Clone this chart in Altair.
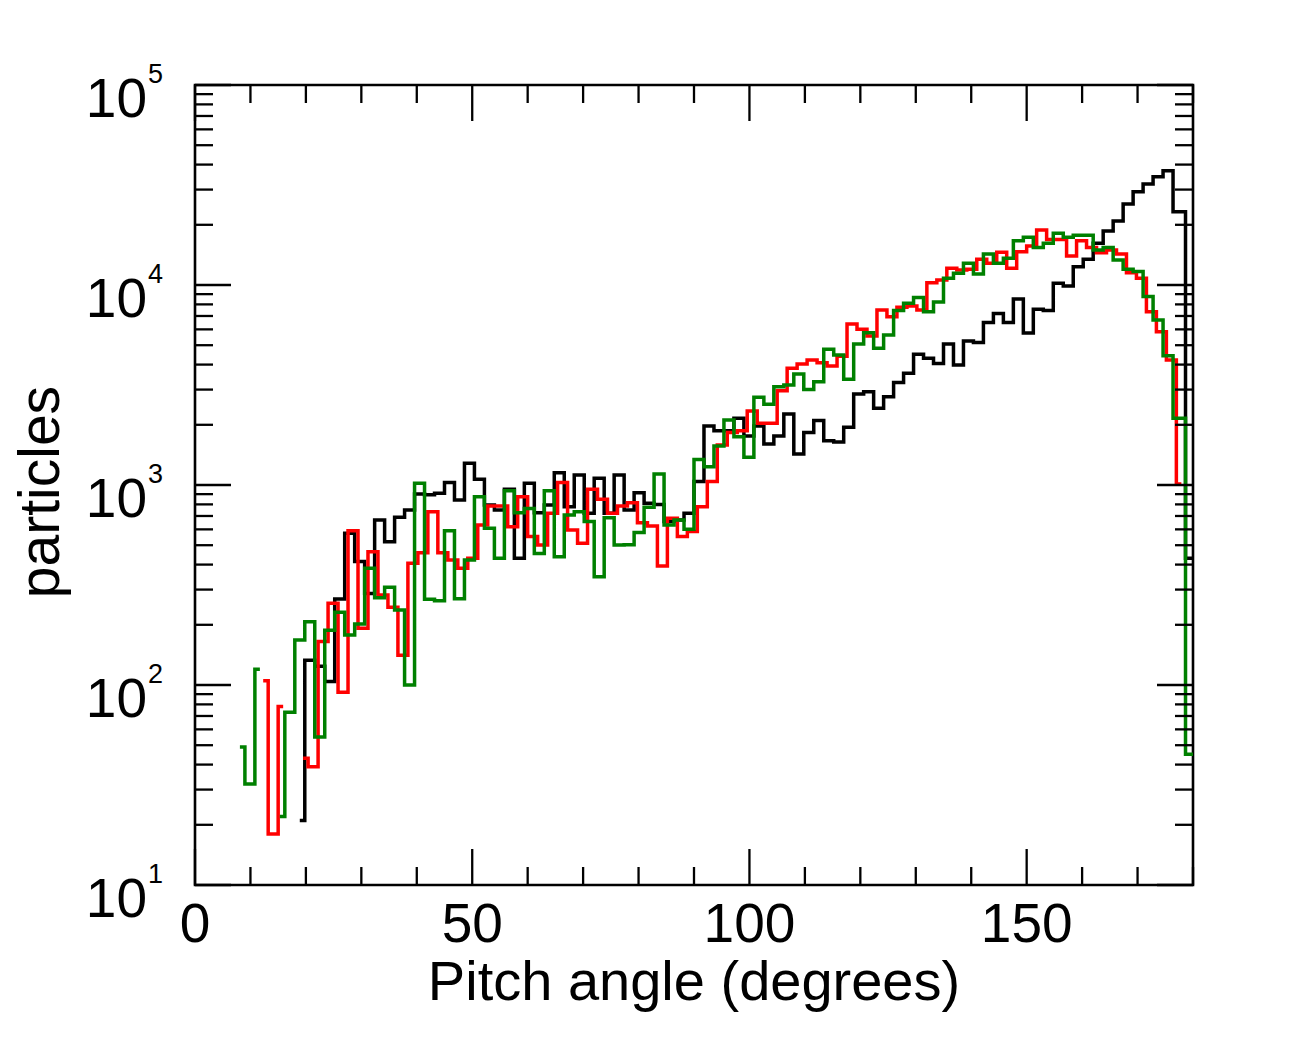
import altair as alt
import pandas as pd

# ---------------- data ----------------
BIN = 1.8  # histogram bin width in degrees

# black: bins 10..98 (centres 1.8*k + 0.9), last point at 180 deg
black_first_bin = 10
black_counts = [21, 133, 124, 104, 269, 573, 414, 287, 668, 521,
                689, 750, 902, 895, 910, 1030, 841, 1283, 1067, 794,
                750, 951, 430, 1019, 727, 794, 1152, 779, 1122, 722,
                1080, 722, 1122, 750, 915, 810, 800, 656, 668, 722,
                1040, 1972, 1870, 1870, 2154, 1758, 1972, 1603, 1758, 2265,
                1429, 1828, 2099, 1666, 1640, 1943, 2851, 2930, 2417, 2765,
                3250, 3616, 4500, 4297, 4055, 5070, 3981, 5248, 5153, 6500,
                7211, 6500, 8511, 5750, 7554, 7447, 10190, 9886, 12350, 13440,
                16160, 18620, 20890, 25410, 29290, 31990, 34800, 37290, 23260]
black_end = 430

# red: bins 6..98 (centres 1.8*j + 1.5); None = empty bin
red_first_bin = 6
red_counts = [105, 18, 78, None, 43, 39, 165, 256, 92, 591,
              192, 464, 282, 245, 141, 406, 459, 735, 459, 422,
              383, 430, 631, 785, 785, 619, 874, 552, 501, 722,
              1028, 596, 511, 951, 848, 722, 785, 816, 648, 624,
              394, 681, 552, 585, 779, 1040, 1585, 1828, 1866, 2344,
              2034, 2034, 2962, 3833, 4027, 4217, 4090, 3936, 4400, 6383,
              6006, 5559, 7499, 6947, 7733, 7850, 7499, 10270, 10590, 12120,
              11885, 12000, 13440, 12840, 14570, 12120, 14670, 15670, 18840, 16900,
              16900, 13960, 16660, 15400, 14500, 14960, 14290, 11530, 10800, 7355,
              5843, 4217, 1012]

# green: bins 4..98 (centres 1.8*k + 0.9), last point at 180 deg
green_first_bin = 4
green_counts = [49, 32, 120, None, 22, 73, 168, 207, 55, 188,
                231, 178, 202, 383, 273, 308, 237, 100, 1019, 268,
                264, 590, 270, 422, 874, 607, 430, 937, 727, 764,
                455, 937, 438, 708, 735, 656, 348, 686, 501, 503,
                578, 773, 1135, 631, 668, 600, 1343, 1235, 1567, 2113,
                1744, 1375, 2743, 2531, 3103, 3162, 3589, 3006, 3286, 4770,
                4467, 3377, 5070, 5774, 4822, 5623, 7447, 8097, 8670, 7355,
                8222, 10800, 11440, 12840, 11350, 14290, 12840, 13600, 16660, 17310,
                15400, 16160, 18130, 17310, 17710, 17710, 14960, 15400, 13340, 11980,
                11680, 8750, 6683, 4430, 2154]
green_end = 45

x_tick_values = list(range(0, 181, 10))
x_label_values = [0, 50, 100, 150]
x_label_texts = ["0", "50", "100", "150"]
y_decades = [10, 100, 1000, 10000, 100000]
y_exponents = ["1", "2", "3", "4", "5"]
x_title = "Pitch angle (degrees)"
y_title = "particles"

# ---------------- layout ----------------
W, H = 998, 800
MAJOR, MINOR = 36, 18
FONT = "Liberation Sans"

xscale = alt.Scale(domain=[0, 180], nice=False, zero=False)
yscale = alt.Scale(type="log", domain=[10, 100000], nice=False)


def series_frame(first_bin, counts, centre_offset, end_value=None):
    rows, seg = [], 0
    for i, c in enumerate(counts):
        if c is None:
            seg += 1
            continue
        rows.append({"angle": BIN * (first_bin + i) + centre_offset, "count": c, "seg": seg})
    if end_value is not None:
        rows.append({"angle": 180.0, "count": end_value, "seg": seg})
    return pd.DataFrame(rows)


def line_layer(df, color):
    return alt.Chart(df).mark_line(interpolate="step", strokeWidth=3.5, color=color).encode(
        x=alt.X("angle:Q", scale=xscale, axis=None),
        y=alt.Y("count:Q", scale=yscale, axis=None),
        detail="seg:N",
    )


black = line_layer(series_frame(black_first_bin, black_counts, 0.9, black_end), "#000000")
red = line_layer(series_frame(red_first_bin, red_counts, 1.5), "#ff0000")
green = line_layer(series_frame(green_first_bin, green_counts, 0.9, green_end), "#008000")

# tick data
xt = pd.DataFrame({"pos": x_tick_values})
xt["major"] = xt["pos"] % 50 == 0
yt_vals = []
for d in y_decades[:-1]:
    for m in range(1, 10):
        yt_vals.append(d * m)
yt_vals.append(y_decades[-1])
yt = pd.DataFrame({"pos": yt_vals})
yt["major"] = yt["pos"].isin(y_decades)

tick_layers = []
for is_major, L in [(True, MAJOR), (False, MINOR)]:
    xd = xt[xt["major"] == is_major]
    yd = yt[yt["major"] == is_major]
    base_x = alt.Chart(xd).mark_rule(strokeWidth=2.3, color="black")
    base_y = alt.Chart(yd).mark_rule(strokeWidth=2.3, color="black")
    X = alt.X("pos:Q", scale=xscale, axis=None)
    Y = alt.Y("pos:Q", scale=yscale, axis=None)
    tick_layers += [
        base_x.encode(x=X, y=alt.value(H), y2=alt.value(H - L)),
        base_x.encode(x=X, y=alt.value(0), y2=alt.value(L)),
        base_y.encode(y=Y, x=alt.value(0), x2=alt.value(L)),
        base_y.encode(y=Y, x=alt.value(W), x2=alt.value(W - L)),
    ]

# labels
xl = pd.DataFrame({"pos": x_label_values, "label": x_label_texts})
x_labels = alt.Chart(xl).mark_text(
    font=FONT, fontSize=55, align="center", baseline="alphabetic", color="black"
).encode(x=alt.X("pos:Q", scale=xscale, axis=None), y=alt.value(H + 57), text="label:N")

yl = pd.DataFrame({"pos": y_decades, "exp": y_exponents})
y_labels = alt.Chart(yl).mark_text(
    font=FONT, fontSize=55, align="right", baseline="alphabetic", dy=32, color="black"
).encode(y=alt.Y("pos:Q", scale=yscale, axis=None), x=alt.value(-48), text=alt.value("10"))
y_sup = alt.Chart(yl).mark_text(
    font=FONT, fontSize=27, align="left", baseline="alphabetic", dy=-2, color="black"
).encode(y=alt.Y("pos:Q", scale=yscale, axis=None), x=alt.value(-47), text="exp:N")

xtitle = alt.Chart(pd.DataFrame({"t": [x_title]})).mark_text(
    font=FONT, fontSize=56, align="center", baseline="alphabetic", color="black"
).encode(x=alt.value(W / 2), y=alt.value(H + 115), text="t:N")
ytitle = alt.Chart(pd.DataFrame({"t": [y_title]})).mark_text(
    font=FONT, fontSize=57, align="center", baseline="alphabetic", angle=270, color="black"
).encode(x=alt.value(-136), y=alt.value(407), text="t:N")

chart = alt.layer(
    black, red, green, *tick_layers, x_labels, y_labels, y_sup, xtitle, ytitle
).properties(
    width=W, height=H,
    autosize=alt.AutoSizeParams(type="none"),
    padding={"left": 187, "top": 77, "right": 95, "bottom": 145},
).configure_view(stroke="black", strokeWidth=2.6)

chart.save("out.html", embed_options={"renderer": "svg", "actions": False})
